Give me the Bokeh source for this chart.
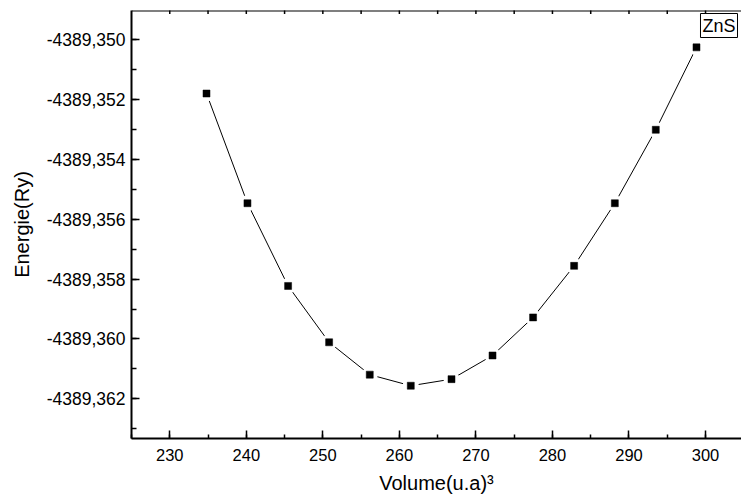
import math
from bokeh.plotting import figure
from bokeh.models import (SingleIntervalTicker, LinearAxis, CustomJSTickFormatter,
                          Range1d, Label, Span)
from bokeh.embed import file_html
from bokeh.resources import INLINE

# Data
volume = [234.8, 240.15, 245.46, 250.82, 256.13, 261.49, 266.81,
          272.17, 277.47, 282.83, 288.15, 293.5, 298.82]
energy = [-4389.35181, -4389.35547, -4389.35823, -4389.36011, -4389.36119,
          -4389.36156, -4389.36134, -4389.36055, -4389.35928, -4389.35756,
          -4389.35547, -4389.35302, -4389.35027]
series_name = "ZnS"
x_title = "Volume(u.a)\u00b3"
y_title = "Energie(Ry)"

FONT = "Liberation Sans"
X0, X1 = 225, 304.7
Y0, Y1 = -4389.36332, -4389.34904

p = figure(width=741, height=502, output_backend="svg", toolbar_location=None,
           x_range=Range1d(X0, X1), y_range=Range1d(Y0, Y1),
           x_axis_type=None, y_axis_type=None,
           min_border_left=131, min_border_right=0, min_border_top=10,
           min_border_bottom=64)
p.outline_line_color = None
p.xgrid.visible = False
p.ygrid.visible = False
p.background_fill_color = "white"
p.border_fill_color = "white"

# bottom axis
xb = LinearAxis(ticker=SingleIntervalTicker(interval=10, num_minor_ticks=2))
xb.axis_label = x_title
xb.major_tick_in = 8
xb.major_tick_out = 0
xb.minor_tick_in = 4
xb.minor_tick_out = 0
xb.axis_line_width = 2
xb.axis_line_color = "black"
xb.major_tick_line_width = 1.5
xb.minor_tick_line_width = 1.5
xb.major_label_text_font = FONT
xb.major_label_text_font_size = "16.5px"
xb.major_label_text_color = "black"
xb.major_label_standoff = 10
xb.axis_label_text_font = FONT
xb.axis_label_text_font_size = "20px"
xb.axis_label_text_font_style = "normal"
xb.axis_label_text_color = "black"
xb.axis_label_standoff = 8
p.add_layout(xb, "below")

# left axis
yl = LinearAxis(ticker=SingleIntervalTicker(interval=0.002, num_minor_ticks=2),
                formatter=CustomJSTickFormatter(code="return tick.toFixed(3).replace('.', ',');"))
yl.axis_label = y_title
yl.major_tick_in = 8
yl.major_tick_out = 0
yl.minor_tick_in = 5
yl.minor_tick_out = 0
yl.axis_line_width = 2
yl.axis_line_color = "black"
yl.major_tick_line_width = 1.5
yl.minor_tick_line_width = 1.5
yl.major_label_text_font = FONT
yl.major_label_text_font_size = "17.5px"
yl.major_label_text_color = "black"
yl.major_label_standoff = 6
yl.axis_label_text_font = FONT
yl.axis_label_text_font_size = "20px"
yl.axis_label_text_font_style = "normal"
yl.axis_label_text_color = "black"
yl.axis_label_standoff = 11
p.add_layout(yl, "left")

# top frame line with small inward ticks
p.add_layout(Span(location=Y1, dimension="width", line_color="black", line_width=2))
top_ticks = list(range(230, 305, 5))
p.scatter(top_ticks, [Y1] * len(top_ticks), marker="dash", angle=math.pi / 2,
          size=7, line_color="black", line_width=1.5)

# curve
p.line(volume, energy, line_color="black", line_width=1)
p.scatter(volume, energy, marker="circle", size=16, fill_color="white",
          line_color=None)
p.scatter(volume, energy, marker="square", size=7, fill_color="black",
          line_color="black", line_width=0.5)

# legend box
lab = Label(x=X1, y=Y1, text=series_name, text_align="right",
            text_baseline="top", x_offset=-4, y_offset=-3,
            text_font=FONT, text_font_size="18px", text_color="black",
            border_line_color="black", border_line_width=1,
            background_fill_color="white", padding=2)
p.add_layout(lab)

open("out.html", "w").write(file_html(p, INLINE))
